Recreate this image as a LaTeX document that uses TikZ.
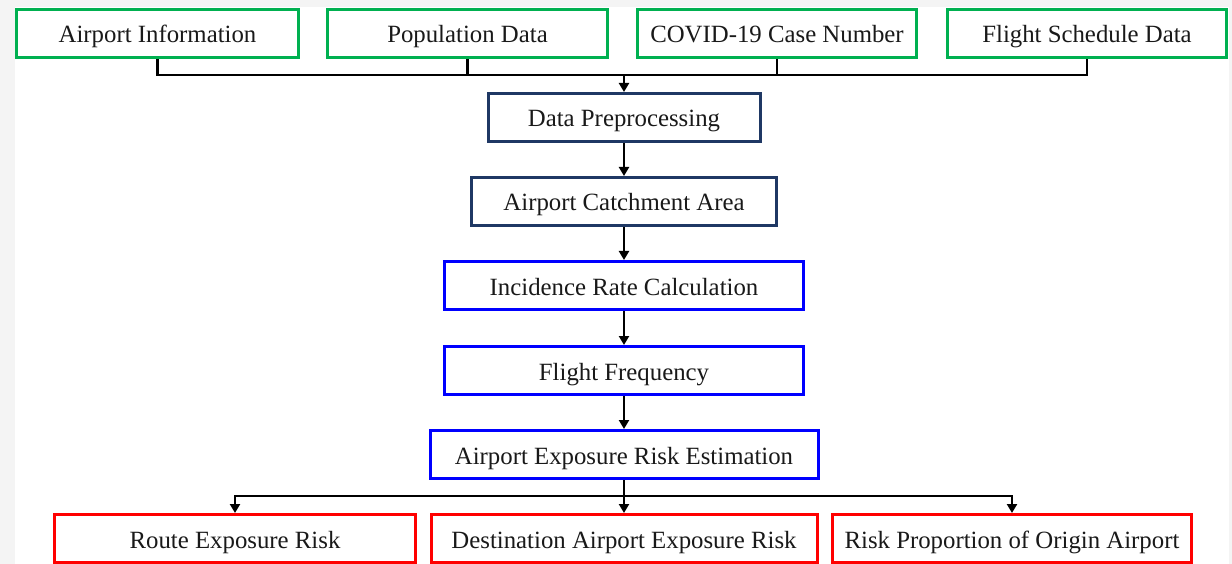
\documentclass[tikz,border=0pt]{standalone}
\usepackage{fontspec}
\setmainfont{Liberation Serif}
\usetikzlibrary{arrows.meta}
\definecolor{cgreen}{HTML}{00B050}
\definecolor{cnavy}{HTML}{1F3864}
\definecolor{cblue}{HTML}{0000FF}
\definecolor{cred}{HTML}{FF0000}
\definecolor{bggray}{HTML}{F4F4F4}
\begin{document}
\begin{tikzpicture}[x=1pt,y=-1pt,
  box/.style={draw,line width=3pt,fill=white,minimum height=48pt,inner sep=0pt,
    text height=24pt,text depth=5pt,
    font=\fontsize{24.8}{28}\selectfont,text=black!90},
  gbox/.style={box,draw=cgreen},
  nbox/.style={box,draw=cnavy},
  bbox/.style={box,draw=cblue},
  rbox/.style={box,draw=cred},
  conn/.style={line width=2.5pt,black},
  arr/.style={conn,-{Triangle[length=9pt,width=10pt]}}]
\useasboundingbox (0,0) rectangle (1232,564);
\fill[bggray] (0,0) rectangle (1232,564);
\fill[white] (15,7) rectangle (1229,564);
% top row
\node[gbox,minimum width=282pt] (ai) at (157.5,33.5) {Airport Information};
\node[gbox,minimum width=280pt] (pd) at (467.5,33.5) {Population Data};
\node[gbox,minimum width=279pt] (cc) at (777,33.5) {COVID-19 Case Number};
\node[gbox,minimum width=279pt] (fs) at (1087,33.5) {Flight Schedule Data};
% middle
\node[nbox,minimum width=272pt] (dp) at (624,117.5) {Data Preprocessing};
\node[nbox,minimum width=305pt] (ac) at (624,201.5) {Airport Catchment Area};
\node[bbox,minimum width=359pt] (ir) at (624,285.5) {Incidence Rate Calculation};
\node[bbox,minimum width=359pt] (ff) at (624,370.5) {Flight Frequency};
\node[bbox,minimum width=388pt] (ae) at (624,454.5) {Airport Exposure Risk Estimation};
% bottom
\node[rbox,minimum width=361pt] (re) at (235,538.5) {Route Exposure Risk};
\node[rbox,minimum width=386pt] (da) at (624,538.5) {Destination Airport Exposure Risk};
\node[rbox,minimum width=359pt] (rp) at (1012,538.5) {Risk Proportion of Origin Airport};
% top bus
\coordinate (tb) at (624,75);
\draw[conn] (ai.south) |- (tb) -| (fs.south);
\draw[conn] (pd.south) -- (pd.south |- tb);
\draw[conn] (cc.south) -- (cc.south |- tb);
\draw[arr] (tb) -- (dp.north);
\draw[arr] (dp) -- (ac);
\draw[arr] (ac) -- (ir);
\draw[arr] (ir) -- (ff);
\draw[arr] (ff) -- (ae);
% bottom bus
\coordinate (bb) at (624,496);
\draw[conn] (ae.south) -- (bb);
\draw[arr] (bb) -| (re.north);
\draw[arr] (bb) -| (rp.north);
\draw[arr] (bb) -- (da.north);
\end{tikzpicture}
\end{document}
